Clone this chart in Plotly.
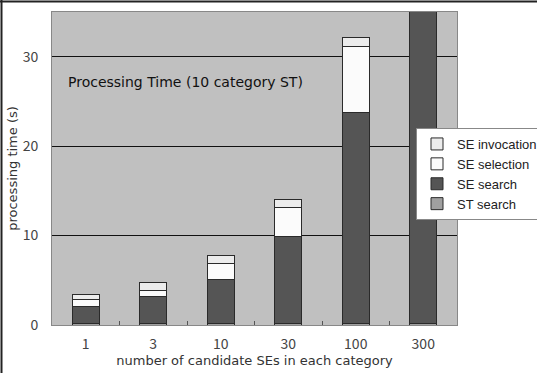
import plotly.graph_objects as go

categories = ["1", "3", "10", "30", "100", "300"]
st_search = [0.2, 0.2, 0.2, 0.2, 0.2, 0.2]
se_search = [1.9, 3.0, 4.9, 9.7, 23.6, 35.1]
se_selection = [0.7, 0.7, 1.8, 3.2, 7.3, 0.0]
se_invocation = [0.6, 0.9, 0.9, 0.9, 1.1, 0.0]

series = [
    ("ST search", st_search, "#a0a0a0"),
    ("SE search", se_search, "#555555"),
    ("SE selection", se_selection, "#fbfbfb"),
    ("SE invocation", se_invocation, "#ececec"),
]

FONT = "DejaVu Sans, sans-serif"
TICKFONT = "Noto Sans CJK JP, DejaVu Sans, sans-serif"
LEGFONT = "Liberation Sans, Arial, sans-serif"

fig = go.Figure()
for name, vals, col in series:
    fig.add_trace(go.Bar(
        x=categories, y=vals, name=name,
        marker=dict(color=col, line=dict(color="#2a2a2a", width=1)),
        cliponaxis=False,
    ))

W, H = 537, 373
L, R, T, B = 52, 80, 12, 48
pw = W - L - R
ph = H - T - B

fig.update_layout(
    width=W, height=H,
    margin=dict(l=L, r=R, t=T, b=B, autoexpand=False),
    barmode="stack", bargap=0.6,
    paper_bgcolor="white", plot_bgcolor="#c0c0c0",
    font=dict(family=FONT, color="#333333", size=13),
    showlegend=True,
    legend=dict(
        x=(416 - L) / pw, y=1 - (128 - T) / ph, xanchor="left", yanchor="top",
        bgcolor="white", bordercolor="#888888", borderwidth=1,
        traceorder="reversed", font=dict(size=13, color="#222222", family=LEGFONT),
        itemwidth=30, tracegroupgap=0,
    ),
    xaxis=dict(
        type="category", showline=True, linecolor="#888888", mirror=True,
        ticks="inside", tickson="boundaries", ticklen=4, tickcolor="#555555",
        tickfont=dict(size=14, color="#444444", family=TICKFONT),
        ticklabelstandoff=6,
        title=dict(text="number of candidate SEs in each category", standoff=0,
                   font=dict(size=13, color="#333333")),
        automargin=False,
    ),
    yaxis=dict(
        range=[0, 35], dtick=10, showline=True, linecolor="#888888", mirror=True,
        showgrid=True, gridcolor="#111111", gridwidth=1, zeroline=False,
        ticks="", ticklabelstandoff=10,
        tickfont=dict(size=14, color="#444444", family=TICKFONT),
        title=dict(text="processing time (s)", standoff=2,
                   font=dict(size=13, color="#333333")),
        automargin=False,
    ),
    annotations=[dict(
        text="Processing Time (10 category ST)", xref="paper", yref="paper",
        x=(66 - L) / pw, y=1 - (82 - T) / ph, xanchor="left", yanchor="middle",
        showarrow=False, font=dict(size=14, color="#111111", family=FONT),
    )],
    shapes=[
        dict(type="line", xref="paper", yref="paper",
             x0=(0 - L) / pw, x1=(W - L) / pw, y0=1 + (T - 1.5) / ph, y1=1 + (T - 1.5) / ph,
             line=dict(color="#222222", width=2)),
        dict(type="line", xref="paper", yref="paper",
             x0=(1.5 - L) / pw, x1=(1.5 - L) / pw, y0=1 + T / ph, y1=-(B) / ph,
             line=dict(color="#222222", width=2)),
    ],
)

fig.write_html("out.html", config={"displayModeBar": False},
               post_script="document.body.style.margin='0';")
